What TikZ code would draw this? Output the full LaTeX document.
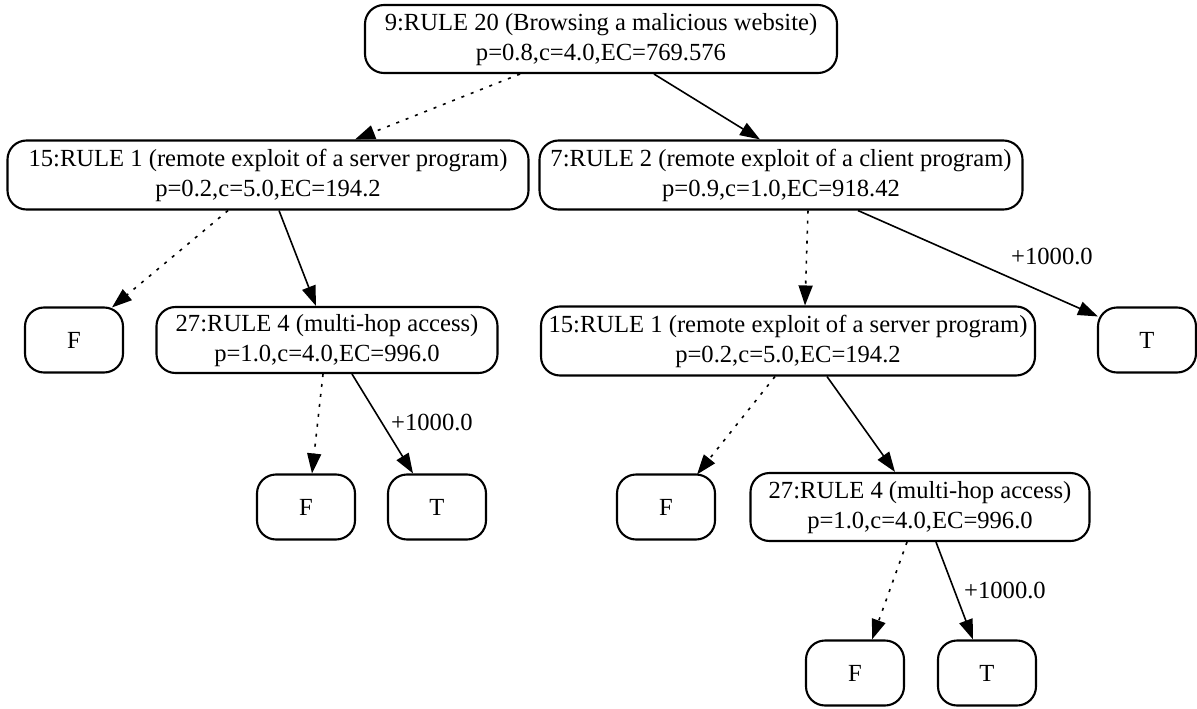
\documentclass[tikz,border=0pt]{standalone}
\usepackage{fontspec}
\setmainfont{Liberation Serif}
\usetikzlibrary{arrows.meta,calc}
% two centred lines, 30pt apart, set in a tabular so both rows get full struts
\newcommand\twolines[2]{\begin{tabular}{@{}c@{}}#1\\#2\end{tabular}}
\tikzset{
  rulebox/.style={draw, line width=2.1pt, rounded corners=19pt, align=center,
    inner sep=0pt, font=\fontsize{24.6}{30}\selectfont},
  leafbox/.style={rulebox, minimum width=98pt, minimum height=65pt},
  edgeline/.style={line width=1.6pt, -{Triangle[length=20pt,width=14pt]}},
  hi/.style={edgeline},
  lo/.style={edgeline, dash pattern=on 3pt off 7pt},
  gain/.style={font=\fontsize{24.6}{28}\selectfont, inner sep=0pt}
}
\begin{document}
\begin{tikzpicture}[x=1pt, y=-1pt]
\useasboundingbox (0,0) rectangle (1197,709);

% decision nodes
\node[rulebox, minimum width=472pt, minimum height=68pt] (root) at (601,39)
  {\twolines{9:RULE 20 (Browsing a malicious website)}{p=0.8,c=4.0,EC=769.576}};
\node[rulebox, minimum width=521pt, minimum height=69pt] (A) at (268,175)
  {\twolines{15:RULE 1 (remote exploit of a server program)}{p=0.2,c=5.0,EC=194.2}};
\node[rulebox, minimum width=483pt, minimum height=69pt] (B) at (781,175)
  {\twolines{7:RULE 2 (remote exploit of a client program)}{p=0.9,c=1.0,EC=918.42}};
\node[rulebox, minimum width=341pt, minimum height=66pt] (CA) at (327,340)
  {\twolines{27:RULE 4 (multi-hop access)}{p=1.0,c=4.0,EC=996.0}};
\node[rulebox, minimum width=494pt, minimum height=69pt] (D) at (788,341)
  {\twolines{15:RULE 1 (remote exploit of a server program)}{p=0.2,c=5.0,EC=194.2}};
\node[rulebox, minimum width=339pt, minimum height=68pt] (CD) at (920,507)
  {\twolines{27:RULE 4 (multi-hop access)}{p=1.0,c=4.0,EC=996.0}};

% terminal nodes
\node[leafbox] (FA)  at (74,340)   {F};
\node[leafbox] (TB)  at (1147,340) {T};
\node[leafbox] (FCA) at (306,507)  {F};
\node[leafbox] (TCA) at (437,507)  {T};
\node[leafbox] (FD)  at (666,507)  {F};
\node[leafbox] (FCD) at (855,673)  {F};
\node[leafbox] (TCD) at (987,673)  {T};

% edges: dashed = fail branch, solid = success branch
\draw[lo] ($(root.south)+(-81,0)$) -- ($(A.north)+(87,0)$);
\draw[hi] ($(root.south)+(53,0)$)  -- ($(B.north)+(-21,0)$);
\draw[lo] ($(A.south)+(-40,0)$)    -- ($(FA.north)+(38,1)$);
\draw[hi] ($(A.south)+(11,0)$)     -- ($(CA.north)+(-11,0)$);
\draw[lo] ($(B.south)+(27,0)$)     -- ($(D.north)+(17,0)$);
\draw[hi] ($(B.south)+(77,0)$)     -- ($(TB.north west)+(1,10)$);
\draw[lo] ($(CA.south)+(-4,0)$)    -- ($(FCA.north)+(6,0)$);
\draw[hi] ($(CA.south)+(25,0)$)    -- ($(TCA.north)+(-24,0)$);
\draw[lo] ($(D.south)+(-13,0)$)    -- ($(FD.north)+(31,1)$);
\draw[hi] ($(D.south)+(39,0)$)     -- ($(CD.north)+(-25,0)$);
\draw[lo] ($(CD.south)+(-13,0)$)   -- ($(FCD.north)+(17,0)$);
\draw[hi] ($(CD.south)+(16,0)$)    -- ($(TCD.north)+(-14,0)$);

% gain labels on success edges
\node[gain] (gB)  at (1052,256) {+1000.0};
\node[gain] (gCA) at (432,422)  {+1000.0};
\node[gain] (gCD) at (1005,590) {+1000.0};
\end{tikzpicture}
\end{document}
